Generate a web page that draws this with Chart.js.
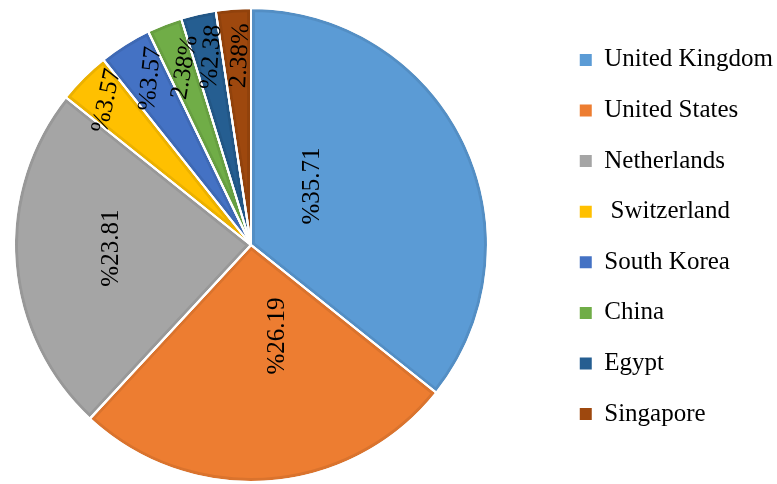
<!DOCTYPE html>
<html>
<head>
<meta charset="utf-8">
<title>Distribution by country</title>
<script src="https://cdn.jsdelivr.net/npm/chart.js@4/dist/chart.umd.min.js"></script>
<style>
  html, body { margin: 0; padding: 0; background: #ffffff; }
  canvas { display: block; }
</style>
</head>
<body>
<canvas id="chart" width="777" height="484"></canvas>
<script>
// Countries and their share of the total (percent)
const countries = ['United Kingdom', 'United States', 'Netherlands', ' Switzerland', 'South Korea', 'China', 'Egypt', 'Singapore'];
const shares = [35.71, 26.19, 23.81, 3.57, 3.57, 2.38, 2.38, 2.38];
// Which side of the number the percent sign is printed on
const percentSide = ['before', 'before', 'before', 'before', 'before', 'after', 'before', 'after'];

const sliceColors = ['#5B9BD5', '#ED7D31', '#A5A5A5', '#FFC000', '#4472C4', '#70AD47', '#255E91', '#9E480E'];

function shareText(i) {
  const num = shares[i].toFixed(2);
  return percentSide[i] === 'after' ? num + '%' : '%' + num;
}

// Puts the pie in its own box and nudges the legend column sideways
const pieFrame = {
  id: 'pieFrame',
  afterLayout(chart, args, opts) {
    const a = chart.chartArea;
    a.left = opts.left;
    a.right = opts.right;
    a.top = opts.top;
    a.bottom = opts.bottom;
    a.width = a.right - a.left;
    a.height = a.bottom - a.top;
    if (chart.legend) {
      chart.legend.left += opts.legendShift;
      chart.legend.right += opts.legendShift;
    }
  }
};

// Darker inner rim along every slice edge, then the white seams again
const sliceRim = {
  id: 'sliceRim',
  afterDatasetDraw(chart, args, opts) {
    const ctx = chart.ctx;
    const sector = (p) => {
      ctx.beginPath();
      ctx.moveTo(p.x, p.y);
      ctx.arc(p.x, p.y, p.outerRadius, p.startAngle, p.endAngle);
      ctx.closePath();
    };
    args.meta.data.forEach((arc) => {
      const p = arc.getProps(['x', 'y', 'startAngle', 'endAngle', 'outerRadius'], true);
      ctx.save();
      sector(p);
      ctx.clip();
      ctx.lineJoin = 'round';
      ctx.lineWidth = opts.width * 2;
      ctx.strokeStyle = opts.color;
      ctx.stroke();
      ctx.restore();
    });
    args.meta.data.forEach((arc) => {
      const p = arc.getProps(['x', 'y', 'startAngle', 'endAngle', 'outerRadius'], true);
      ctx.save();
      sector(p);
      ctx.lineJoin = 'bevel';
      ctx.lineWidth = opts.seam;
      ctx.strokeStyle = '#ffffff';
      ctx.stroke();
      ctx.restore();
    });
  }
};

// Rotated percentage labels inside the slices
const sliceLabels = {
  id: 'sliceLabels',
  afterDatasetsDraw(chart, args, opts) {
    const ctx = chart.ctx;
    const meta = chart.getDatasetMeta(0);
    meta.data.forEach((arc, i) => {
      const p = arc.getProps(['x', 'y', 'startAngle', 'endAngle', 'outerRadius'], true);
      const place = opts.placement[i];
      const mid = (p.startAngle + p.endAngle) / 2 + place.shift * Math.PI / 180;
      const r = p.outerRadius * place.r;
      const lx = p.x + Math.cos(mid) * r;
      const ly = p.y + Math.sin(mid) * r;
      ctx.save();
      ctx.translate(lx, ly);
      ctx.rotate(place.rot * Math.PI / 180);
      ctx.font = opts.font;
      ctx.fillStyle = opts.color;
      ctx.textAlign = 'center';
      ctx.textBaseline = 'middle';
      ctx.fillText(shareText(i), 0, 0);
      ctx.restore();
    });
  }
};

const defaultLabels = Chart.overrides.pie.plugins.legend.labels.generateLabels;

new Chart(document.getElementById('chart'), {
  type: 'pie',
  data: {
    labels: countries,
    datasets: [{
      data: shares,
      backgroundColor: sliceColors,
      borderColor: '#ffffff',
      borderWidth: 2
    }]
  },
  options: {
    responsive: false,
    animation: false,
    layout: { padding: { top: 0, bottom: 10, left: 0, right: 0 } },
    plugins: {
      tooltip: { enabled: false },
      legend: {
        position: 'right',
        labels: {
          font: { family: '"Liberation Serif", "Times New Roman", serif', size: 25 },
          color: '#000000',
          boxWidth: 12,
          boxHeight: 12,
          padding: 25.6,
          generateLabels(chart) {
            return defaultLabels(chart).map((item) => Object.assign(item, { lineWidth: 0 }));
          }
        }
      },
      pieFrame: { left: 13, right: 489, top: 7, bottom: 483, legendShift: 6 },
      sliceRim: { width: 4, color: 'rgba(0,0,0,0.08)', seam: 2 },
      sliceLabels: {
        font: '25px "Liberation Serif", "Times New Roman", serif',
        color: '#000000',
        placement: [
          { r: 0.36, shift: -18, rot: -90 },
          { r: 0.40, shift: -12, rot: -90 },
          { r: 0.59, shift: 3, rot: -90 },
          { r: 0.86, shift: 0, rot: -78 },
          { r: 0.82, shift: 1, rot: -84 },
          { r: 0.80, shift: 1, rot: -80 },
          { r: 0.81, shift: 1, rot: -86 },
          { r: 0.80, shift: 1, rot: -87 }
        ]
      }
    }
  },
  plugins: [pieFrame, sliceRim, sliceLabels]
});
</script>
</body>
</html>
